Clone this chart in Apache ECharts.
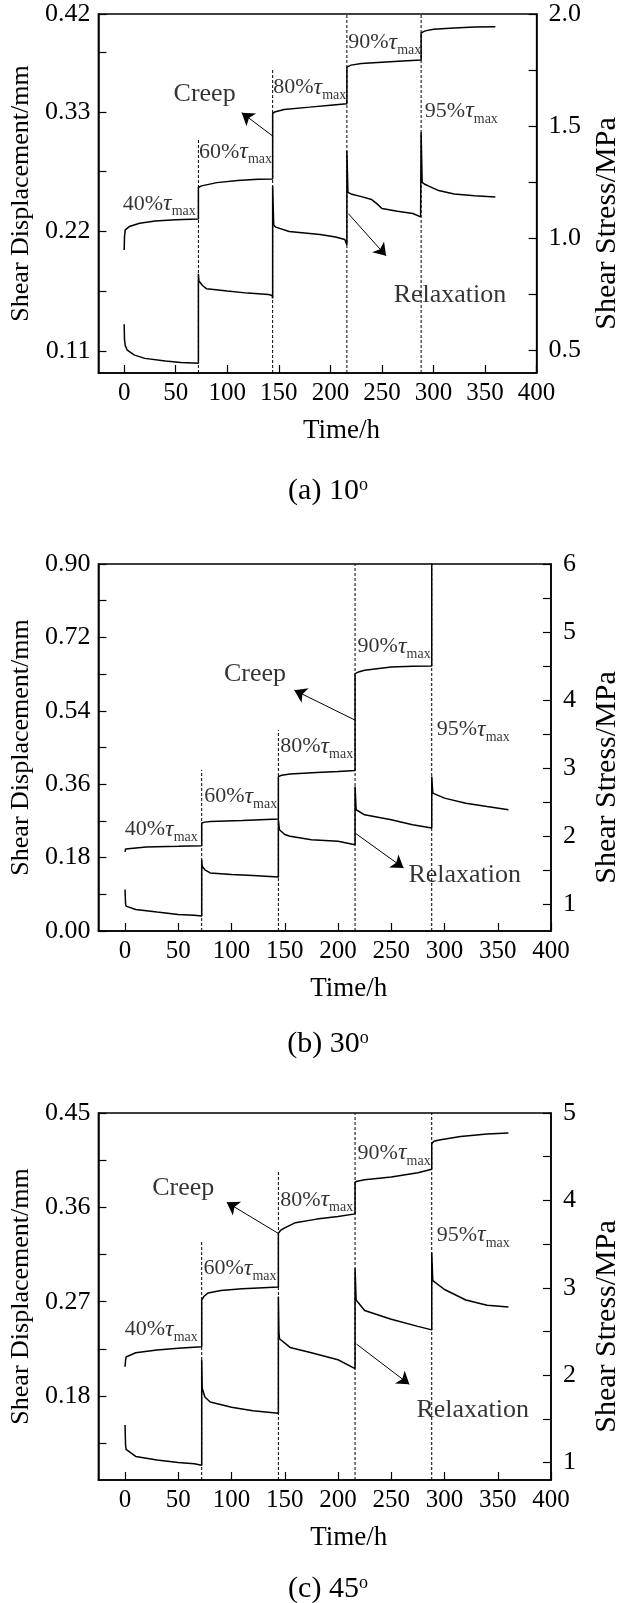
<!DOCTYPE html>
<html>
<head>
<meta charset="utf-8">
<script src="https://cdn.jsdelivr.net/npm/echarts@6/dist/echarts.min.js"></script>
<style>
  html, body { margin: 0; padding: 0; background: #fff; }
  #chart { width: 630px; height: 1603px; }
</style>
</head>
<body>
<div id="chart"></div>
<script>
// time axis
const timeTicks = [0, 50, 100, 150, 200, 250, 300, 350, 400];
const stageTimes = [72, 144, 216, 288];
const stageLoads = ['40', '60', '80', '90', '95'];
const angles = ['10', '30', '45'];

// (a) 10 deg
const dispTicks10 = [0.11, 0.22, 0.33, 0.42];
const dispMinor10 = [0.165, 0.275, 0.385];
const stressTicks10 = [0.5, 1.0, 1.5, 2.0];
const stressMinor10 = [0.75, 1.25, 1.75];
const creep10 = [
  [0, 0.203], [0.3, 0.215], [1, 0.2216], [5, 0.2246], [15, 0.2276], [30, 0.2297], [50, 0.2309], [72, 0.2315],
  [72, 0.2605], [75, 0.262], [90, 0.265], [110, 0.267], [130, 0.268], [144, 0.2683],
  [144, 0.3284], [146, 0.330], [155, 0.3323], [180, 0.3344], [200, 0.3362], [216, 0.3374],
  [216, 0.3712], [220, 0.373], [230, 0.3745], [250, 0.3757], [270, 0.3768], [288, 0.3778],
  [288, 0.4026], [292, 0.4045], [300, 0.406], [320, 0.4072], [340, 0.408], [360, 0.4082]
];
const relax10 = [
  [0, 0.6176], [0.3, 0.55], [1, 0.5233], [3, 0.5015], [10, 0.4798], [20, 0.4652], [40, 0.4536], [55, 0.4464], [72, 0.4435],
  [72, 0.8424], [72.5, 0.81], [76, 0.79], [80, 0.775], [100, 0.765], [120, 0.756], [140, 0.75], [143.5, 0.745], [144, 0.733],
  [144, 1.234], [145, 1.06], [147, 1.05], [160, 1.031], [175, 1.024], [190, 1.017], [205, 1.006], [214, 0.995], [216, 0.97],
  [216, 1.39], [217, 1.205], [220, 1.198], [230, 1.186], [240, 1.173], [245, 1.155], [250, 1.133], [265, 1.121], [280, 1.111], [287.5, 1.096],
  [288, 1.473], [289, 1.25], [292, 1.24], [296, 1.232], [305, 1.213], [320, 1.198], [340, 1.19], [360, 1.184]
];

// (b) 30 deg
const dispTicks30 = [0.00, 0.18, 0.36, 0.54, 0.72, 0.90];
const dispMinor30 = [0.09, 0.27, 0.45, 0.63, 0.81];
const stressTicks30 = [1, 2, 3, 4, 5, 6];
const stressMinor30 = [1.5, 2.5, 3.5, 4.5, 5.5];
const creep30 = [
  [0, 0.194], [0.5, 0.201], [1, 0.2036], [20, 0.206], [50, 0.2077], [72, 0.209],
  [72, 0.2647], [75, 0.267], [80, 0.2688], [110, 0.2712], [144, 0.2745],
  [144, 0.3787], [147, 0.382], [155, 0.3852], [180, 0.3885], [200, 0.3909], [216, 0.3934],
  [216, 0.6312], [220, 0.636], [225, 0.6394], [250, 0.6475], [270, 0.649], [288, 0.65],
  [288, 0.95]
];
const relax30 = [
  [0, 1.21], [0.5, 1.0], [1, 0.966], [10, 0.9175], [30, 0.8784], [50, 0.8442], [65, 0.83], [72, 0.82],
  [72, 1.65], [72.5, 1.55], [75, 1.5], [80, 1.455], [100, 1.43], [120, 1.416], [144, 1.396],
  [144, 2.237], [145, 2.09], [150, 2.02], [155, 1.993], [175, 1.944], [200, 1.92], [216, 1.87],
  [216, 2.726], [217, 2.384], [225, 2.31], [250, 2.237], [270, 2.163], [288, 2.115],
  [288, 2.872], [289, 2.628], [300, 2.555], [320, 2.481], [340, 2.432], [360, 2.384]
];

// (c) 45 deg
const dispTicks45 = [0.18, 0.27, 0.36, 0.45];
const dispMinor45 = [0.135, 0.225, 0.315, 0.405];
const stressTicks45 = [1, 2, 3, 4, 5];
const stressMinor45 = [1.5, 2.5, 3.5, 4.5];
const creep45 = [
  [0, 0.208], [0.5, 0.214], [1, 0.2173], [10, 0.2214], [30, 0.224], [50, 0.2257], [72, 0.227],
  [72, 0.2716], [74, 0.275], [78, 0.2784], [90, 0.2807], [110, 0.2824], [130, 0.2834], [144, 0.284],
  [144, 0.3353], [146, 0.338], [150, 0.3404], [160, 0.3454], [180, 0.3488], [200, 0.3514], [216, 0.3538],
  [216, 0.384], [218, 0.385], [225, 0.3863], [250, 0.389], [275, 0.393], [288, 0.3964],
  [288, 0.4208], [290, 0.423], [295, 0.4242], [315, 0.4275], [340, 0.4299], [360, 0.4309]
];
const relax45 = [
  [0, 1.43], [0.5, 1.2], [1, 1.15], [10, 1.07], [30, 1.029], [50, 1.001], [65, 0.985], [72, 0.969],
  [72, 2.176], [72.5, 1.85], [75, 1.75], [80, 1.693], [100, 1.633], [120, 1.593], [144, 1.564],
  [144, 2.9], [144.5, 2.5], [145, 2.417], [155, 2.317], [175, 2.256], [200, 2.176], [216, 2.075],
  [216, 3.222], [217, 2.86], [225, 2.739], [250, 2.639], [275, 2.558], [288, 2.518],
  [288, 3.403], [289, 3.081], [300, 2.98], [320, 2.86], [340, 2.8], [360, 2.78]
];

const FONT = 'Liberation Serif';

// layout of each panel: grid box, axis ranges, annotation spots (in data units)
const panels = [
  {
    top: 14, height: 359, captionY: 491,
    disp: { min: 0.09, max: 0.42, ticks: dispTicks10, minor: dispMinor10, digits: 2 },
    stress: { min: 0.4, max: 2.0, ticks: stressTicks10, minor: stressMinor10, digits: 1 },
    creep: creep10, relax: relax10,
    loadPos: [[34, 0.2456], [108, 0.2934], [180, 0.3524], [252.7, 0.3937], [327, 0.3308]],
    creepText: [78, 0.3467], relaxText: [316, 0.162],
    creepArrow: [[144.5, 0.3075], [114, 0.3293]], relaxArrow: [[217.3, 0.2366], [254, 0.1977]],
    dashTop: [0.3054, 0.3697, 0.42, 0.42]
  },
  {
    top: 564, height: 367, captionY: 1044,
    disp: { min: 0, max: 0.9, ticks: dispTicks30, minor: dispMinor30, digits: 2 },
    stress: { min: 0.6, max: 6, ticks: stressTicks30, minor: stressMinor30, digits: 0 },
    creep: creep30, relax: relax30,
    loadPos: [[34, 0.2484], [108.6, 0.33], [180, 0.452], [252.7, 0.698], [327, 0.4944]],
    creepText: [122, 0.63], relaxText: [319, 0.136],
    creepArrow: [[216, 0.5172], [159, 0.5905]], relaxArrow: [[216, 0.2403], [261.5, 0.1547]],
    dashTop: [0.395, 0.4928, 0.9, 0.9]
  },
  {
    top: 1113, height: 367, captionY: 1589,
    disp: { min: 0.10, max: 0.45, ticks: dispTicks45, minor: dispMinor45, digits: 2 },
    stress: { min: 0.8, max: 5, ticks: stressTicks45, minor: stressMinor45, digits: 0 },
    creep: creep45, relax: relax45,
    loadPos: [[34, 0.2438], [108, 0.3018], [180, 0.3672], [252.7, 0.4118], [327, 0.3337]],
    creepText: [54.6, 0.3783], relaxText: [326.5, 0.167],
    creepArrow: [[143.7, 0.3353], [95.5, 0.3648]], relaxArrow: [[217.3, 0.2297], [267, 0.1912]],
    dashTop: [0.3286, 0.3957, 0.45, 0.45]
  }
];

const axisLine = { onZero: false, lineStyle: { color: '#000', width: 1.5 } };
const labelStyle = { color: '#000', fontFamily: FONT, fontSize: 26 };

const grid = [], xAxis = [], yAxis = [], series = [], graphic = [];

panels.forEach((p, i) => {
  grid.push({ left: 89, right: 79, top: p.top, height: p.height, show: true, borderColor: '#000', borderWidth: 1.5 });

  xAxis.push({
    type: 'value', gridIndex: i, min: -25, max: 400,
    name: 'Time/h', nameLocation: 'middle', nameGap: 44,
    nameTextStyle: { color: '#000', fontFamily: FONT, fontSize: 27, padding: [0, 0, 0, 48] },
    axisLine: axisLine, splitLine: { show: false },
    axisTick: { inside: true, length: 8, lineStyle: { color: '#000', width: 1.2 }, customValues: timeTicks },
    axisLabel: Object.assign({ margin: 8, customValues: timeTicks }, labelStyle, { fontSize: 25 })
  });

  yAxis.push({
    type: 'value', gridIndex: i, position: 'left', min: p.disp.min, max: p.disp.max,
    name: 'Shear Displacement/mm', nameLocation: 'middle', nameGap: 60, nameRotate: 90,
    nameTextStyle: { color: '#000', fontFamily: FONT, fontSize: 26 },
    axisLine: axisLine, splitLine: { show: false },
    axisTick: { inside: true, length: 8, lineStyle: { color: '#000', width: 1.2 }, customValues: p.disp.ticks.concat(p.disp.minor) },
    axisLabel: Object.assign({ margin: 8, customValues: p.disp.ticks, formatter: v => v.toFixed(p.disp.digits) }, labelStyle)
  });

  yAxis.push({
    type: 'value', gridIndex: i, position: 'right', min: p.stress.min, max: p.stress.max,
    name: 'Shear Stress/MPa', nameLocation: 'middle', nameGap: 41, nameRotate: 90,
    nameTextStyle: { color: '#000', fontFamily: FONT, fontSize: 30, padding: [0, 60, 0, 0] },
    axisLine: axisLine, splitLine: { show: false },
    axisTick: { inside: true, length: 8, lineStyle: { color: '#000', width: 1.2 }, customValues: p.stress.ticks.concat(p.stress.minor) },
    axisLabel: Object.assign({ margin: 12, customValues: p.stress.ticks, formatter: v => v.toFixed(p.stress.digits) }, labelStyle)
  });

  series.push({
    type: 'line', xAxisIndex: i, yAxisIndex: 2 * i, data: p.creep,
    showSymbol: false, symbol: 'none', lineStyle: { color: '#000', width: 1.5 }
  });
  series.push({
    type: 'line', xAxisIndex: i, yAxisIndex: 2 * i + 1, data: p.relax,
    showSymbol: false, symbol: 'none', lineStyle: { color: '#000', width: 1.5 }
  });

  stageTimes.forEach((t, k) => {
    series.push({
      type: 'line', xAxisIndex: i, yAxisIndex: 2 * i, data: [[t, p.disp.min], [t, p.dashTop[k]]],
      symbol: 'none', lineStyle: { color: '#000', width: 1, type: [3, 2] }
    });
  });

  const notes = p.loadPos.map((pos, k) => ({
    value: pos, label: { formatter: '{n|' + stageLoads[k] + '%}{t|τ}{s|max}' }
  }));
  notes.push({ value: p.creepText, label: { formatter: '{w|Creep}' } });
  notes.push({ value: p.relaxText, label: { formatter: '{w|Relaxation}' } });

  series.push({
    type: 'scatter', xAxisIndex: i, yAxisIndex: 2 * i, symbolSize: 0, data: notes, silent: true,
    label: {
      show: true, position: 'inside', color: '#000', fontFamily: FONT,
      rich: {
        n: { fontFamily: FONT, fontSize: 22, color: '#000' },
        t: { fontFamily: FONT, fontSize: 24, fontStyle: 'italic', color: '#000' },
        s: { fontFamily: FONT, fontSize: 14, color: '#000', verticalAlign: 'bottom', padding: [0, 0, -3, 0] },
        w: { fontFamily: FONT, fontSize: 26, color: '#000' }
      }
    },
    markLine: {
      silent: true, symbol: ['none', 'arrow'], symbolSize: 12, animation: false,
      label: { show: false },
      lineStyle: { color: '#000', width: 1, type: 'solid' },
      emphasis: { disabled: true },
      data: [
        [{ coord: p.creepArrow[0] }, { coord: p.creepArrow[1] }],
        [{ coord: p.relaxArrow[0] }, { coord: p.relaxArrow[1] }]
      ]
    }
  });

  graphic.push({
    type: 'text', x: 328, y: p.captionY,
    style: {
      text: '(' + 'abc'[i] + ') ' + angles[i] + '{o|o}',
      fontFamily: FONT, fontSize: 30, fill: '#000', align: 'center', verticalAlign: 'middle',
      rich: { o: { fontFamily: FONT, fontSize: 18, verticalAlign: 'top', fill: '#000' } }
    }
  });
});

const chart = echarts.init(document.getElementById('chart'));
chart.setOption({
  animation: false,
  backgroundColor: '#fff',
  grid: grid,
  xAxis: xAxis,
  yAxis: yAxis,
  series: series,
  graphic: graphic
});
</script>
</body>
</html>
